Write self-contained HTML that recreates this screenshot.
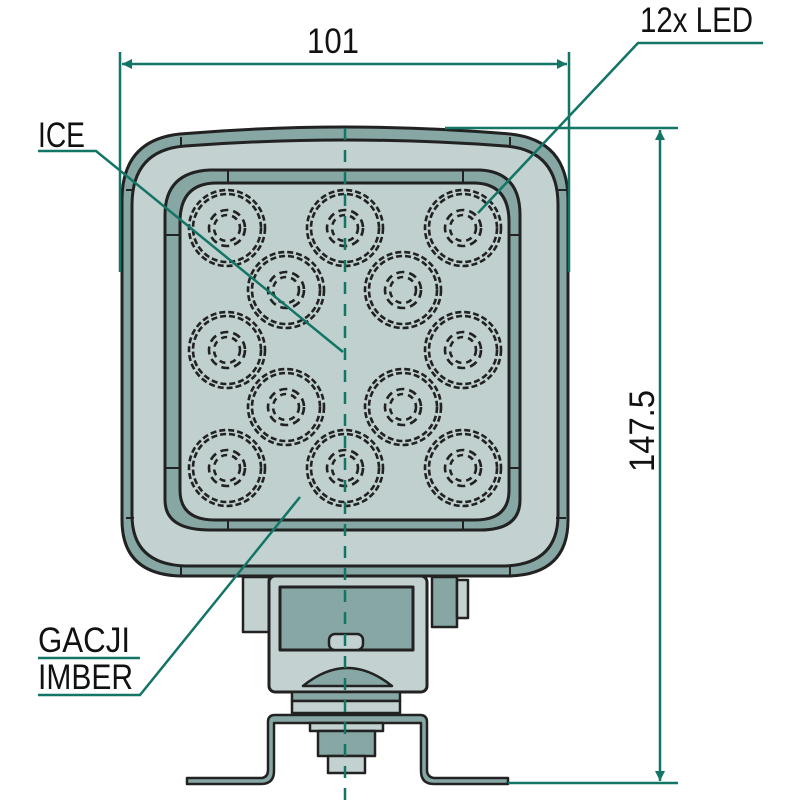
<!DOCTYPE html>
<html><head><meta charset="utf-8"><style>html,body{margin:0;padding:0;background:#fff}svg{display:block}</style></head>
<body>
<svg width="800" height="800" viewBox="0 0 800 800" xmlns="http://www.w3.org/2000/svg">
<defs>
<marker id="ar" viewBox="0 0 10 10" refX="10" refY="5" markerWidth="16" markerHeight="10" markerUnits="userSpaceOnUse" orient="auto-start-reverse"><path d="M0,0L10,5L0,10z" fill="#137565"/></marker>
<g id="led"><circle r="38"/><circle r="34"/><circle r="18" stroke-dasharray="8 5"/><circle r="13" stroke-dasharray="6 5"/></g>
</defs>
<g stroke="#222" stroke-width="3" stroke-linejoin="round">
<path d="M122,200 Q122,140 180,134 Q345,120 510,134 Q568,140 568,200 L568,520 Q568,574 510,576 L180,576 Q122,574 122,520 Z" fill="#87a7a4"/>
<path d="M132,205 Q132,150 185,146 Q345,134 505,146 Q558,150 558,205 L558,515 Q558,564 505,566 L185,566 Q132,564 132,515 Z" fill="#c3d2d0"/>
<path d="M165,215 Q165,172 210,170 L480,170 Q520,172 520,215 L520,500 Q520,530 480,530 L210,530 Q165,530 165,500 Z" fill="#87a7a4"/>
<path d="M180,222 Q180,184 215,183 L475,183 Q509,184 509,222 L509,490 Q509,520 475,520 L215,520 Q180,520 180,490 Z" fill="#bfd0ce"/>
<g stroke-width="2"><line x1="181" y1="137" x2="181" y2="147"/><line x1="510" y1="137" x2="510" y2="147"/><line x1="181" y1="565" x2="181" y2="576"/><line x1="510" y1="565" x2="510" y2="576"/>
<line x1="126" y1="190" x2="134" y2="190"/><line x1="556" y1="190" x2="566" y2="190"/><line x1="126" y1="518" x2="134" y2="518"/><line x1="556" y1="518" x2="566" y2="518"/>
<line x1="228" y1="171" x2="228" y2="184"/><line x1="463" y1="171" x2="463" y2="184"/><line x1="228" y1="519" x2="228" y2="530"/><line x1="463" y1="519" x2="463" y2="530"/>
<line x1="166" y1="235" x2="180" y2="235"/><line x1="508" y1="235" x2="520" y2="235"/><line x1="166" y1="468" x2="180" y2="468"/><line x1="508" y1="468" x2="520" y2="468"/></g>
<rect x="243" y="577" width="26" height="55" fill="#c3d2d0" stroke-width="2.5"/>
<rect x="432" y="577" width="25" height="50" fill="#87a7a4" stroke-width="2.5"/>
<rect x="457" y="580" width="11" height="38" fill="#c3d2d0" stroke-width="2.5"/>
<rect x="269" y="576" width="158" height="116" rx="6" fill="#c3d2d0"/>
<rect x="280" y="587" width="133" height="63" fill="#87a7a4"/>
<rect x="329" y="634" width="34" height="16" rx="6" fill="#c3d2d0" stroke-width="2.5"/>
<path d="M303,686 Q347,650 392,686 Z" fill="#87a7a4" stroke-width="2.5"/>
<rect x="292" y="692" width="108" height="9" fill="#87a7a4" stroke-width="2.5"/>
<rect x="292" y="701" width="108" height="12" fill="#c3d2d0" stroke-width="2.5"/>
<path d="M187,778 L262,778 Q268,777 268,770 L268,722 Q268,715 275,715 L420,715 Q427,715 427,722 L427,770 Q427,777 434,778 L508,778 L508,784 L434,784 Q421,784 421,771 L421,723 L274,723 L274,771 Q274,784 261,784 L187,784 Z" fill="#87a7a4" stroke-width="2.5"/>
<rect x="310" y="723" width="73" height="8" fill="#c3d2d0" stroke-width="2.5"/>
<rect x="318" y="731" width="57" height="25" fill="#87a7a4" stroke-width="2.5"/>
<rect x="328" y="756" width="37" height="17" fill="#c3d2d0" stroke-width="2.5"/>
</g>
<g fill="none" stroke="#222" stroke-width="2.6" stroke-dasharray="6 3">
<use href="#led" x="227" y="228"/><use href="#led" x="345" y="228"/><use href="#led" x="463" y="228"/>
<use href="#led" x="286" y="290"/><use href="#led" x="403" y="290"/>
<use href="#led" x="227" y="350"/><use href="#led" x="463" y="350"/>
<use href="#led" x="286" y="407"/><use href="#led" x="403" y="407"/>
<use href="#led" x="227" y="468"/><use href="#led" x="345" y="468"/><use href="#led" x="463" y="468"/>
</g>
<g fill="none" stroke="#137565" stroke-width="2.5">
<line x1="345" y1="128" x2="345" y2="800" stroke-dasharray="12 10"/>
<line x1="120" y1="52" x2="120" y2="272"/><line x1="569" y1="52" x2="569" y2="272"/>
<line x1="122" y1="64" x2="567" y2="64" marker-start="url(#ar)" marker-end="url(#ar)"/>
<line x1="445" y1="128" x2="678" y2="128"/><line x1="508" y1="783" x2="678" y2="783"/>
<line x1="660" y1="130" x2="660" y2="781" marker-start="url(#ar)" marker-end="url(#ar)"/>
<polyline points="763,43 638,43 478,213"/>
<polyline points="38,151 96,151 343,352"/>
<line x1="38" y1="658" x2="140" y2="658"/>
<polyline points="38,695 140,695 300,497"/>
</g>
<g font-family="'Liberation Sans Narrow','Liberation Sans',sans-serif" font-size="35" fill="#111">
<text x="307" y="53" textLength="52" lengthAdjust="spacingAndGlyphs">101</text>
<text x="640" y="32" textLength="113" lengthAdjust="spacingAndGlyphs">12x LED</text>
<text x="38" y="147" textLength="47" lengthAdjust="spacingAndGlyphs">ICE</text>
<text x="38" y="652" textLength="92" lengthAdjust="spacingAndGlyphs">GACJI</text>
<text x="38" y="689" textLength="95" lengthAdjust="spacingAndGlyphs">IMBER</text>
<text transform="translate(654,472) rotate(-90)" textLength="82" lengthAdjust="spacingAndGlyphs">147.5</text>
</g>
</svg>
</body></html>
